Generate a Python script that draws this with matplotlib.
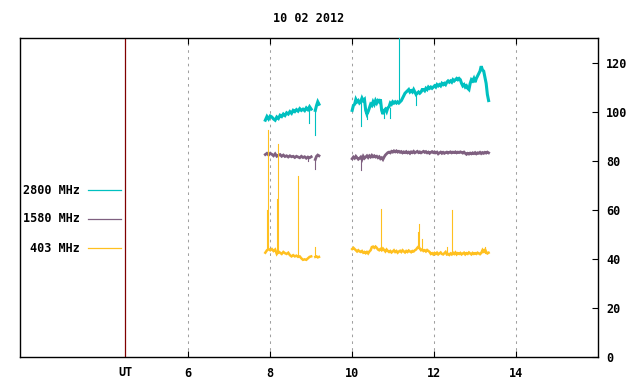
import matplotlib
matplotlib.use("Agg")
import matplotlib.pyplot as plt
import numpy as np

title = "10 02 2012"
labels = ["2800 MHz", "1580 MHz", "403 MHz"]
colors = ["#00c0c0", "#7f6080", "#ffc020"]
widths = [2.2, 2.0, 1.8]
grid_hours = [6, 8, 10, 12, 14]
yticks = [0, 20, 40, 60, 80, 100, 120]
ut_hour = 4.46

# sampling times of the three observing blocks (UT hours)
t_a = np.round(7.88 + 0.04 * np.arange(29), 2)
t_b = [9.10, 9.13, 9.16, 9.19]
t_c = np.round(10.0 + 0.03 * np.arange(112), 2)

# 2800 MHz
f2800_a = [96.5, 98.0, 97.0, 98.2, 97.8, 97.0, 96.5, 97.8, 97.2, 98.5,
           98.0, 99.0, 98.4, 99.5, 99.0, 100.0, 99.3, 100.5, 100.0, 100.8,
           100.2, 101.2, 100.5, 101.0, 100.4, 101.5, 100.8, 102.0, 101.0]
f2800_b = [100.5, 102.5, 104.0, 103.0]
f2800_c = [100.5, 102.5, 103.0, 105.0, 104.0, 104.5, 103.5, 104.0, 105.5, 104.5,
           105.0, 100.5, 99.0, 100.0, 101.5, 103.0, 102.5, 104.0, 103.0, 104.5,
           103.5, 104.5, 104.0, 105.0, 100.5, 99.0, 100.5, 101.0, 100.0, 101.5,
           102.0, 103.5, 103.0, 104.0, 103.5, 104.0, 103.5, 104.0, 103.5, 104.0,
           104.5, 105.5, 106.5, 107.5, 108.0, 108.5, 109.0, 108.0, 108.5, 108.0,
           109.0, 108.0, 107.0, 107.5, 108.0, 107.5, 108.0, 109.0, 109.0, 108.5,
           109.5, 109.0, 110.0, 109.5, 110.0, 109.5, 110.0, 110.5, 110.0, 111.0,
           110.5, 111.0, 110.5, 111.5, 111.0, 111.5, 111.0, 112.0, 112.5, 112.0,
           112.5, 112.0, 113.0, 112.5, 113.0, 113.5, 113.0, 113.5, 113.0, 111.5,
           110.5, 111.0, 110.0, 110.5, 109.5, 109.0, 111.5, 113.0, 112.5, 113.5,
           112.0, 113.5, 114.5, 115.5, 116.5, 118.5, 117.0, 116.5, 114.0, 111.5,
           107.0, 104.5]
# spikes: (hour, from, to)
spk2800 = [(8.95, 101.0, 95.2), (9.10, 101.0, 90.4), (10.22, 104.0, 94.0),
           (10.37, 100.0, 97.0), (10.78, 99.5, 97.5), (10.92, 101.5, 97.5),
           (11.15, 104.0, 132.0), (11.55, 108.0, 102.7)]

# 1580 MHz
f1580_a = [82.5, 83.0, 82.3, 83.0, 82.6, 82.0, 82.8, 81.8, 82.2, 82.5,
           81.8, 82.3, 81.7, 82.0, 81.5, 82.0, 81.6, 81.8, 81.3, 81.8,
           81.5, 81.2, 81.8, 81.3, 81.6, 81.0, 81.5, 81.2, 81.6]
f1580_b = [80.5, 81.8, 82.3, 82.0]
f1580_c = [80.8, 81.5, 81.0, 81.8, 81.2, 80.6, 81.0, 81.5, 80.5, 81.8,
           81.0, 81.5, 82.0, 81.3, 82.0, 81.5, 82.2, 81.6, 82.0, 81.5,
           81.8, 81.2, 81.6, 80.8, 81.2, 80.5, 81.5, 82.3, 82.8, 83.3,
           83.5, 83.2, 83.8, 83.5, 84.0, 83.6, 84.0, 83.5, 83.8, 83.4,
           83.7, 83.2, 83.6, 83.3, 83.7, 83.2, 83.5, 83.0, 83.6, 83.3,
           83.8, 83.2, 83.5, 83.8, 83.3, 83.6, 83.2, 83.5, 83.8, 83.4,
           83.7, 83.2, 83.5, 83.0, 83.4, 83.7, 83.3, 83.6, 83.2, 83.5,
           82.8, 83.2, 83.5, 83.0, 83.4, 83.0, 83.3, 83.5, 83.1, 83.4,
           83.6, 83.2, 83.5, 83.3, 83.6, 83.2, 83.5, 83.3, 83.6, 83.4,
           83.1, 83.5, 83.0, 82.6, 83.0, 82.7, 83.1, 82.8, 83.2, 82.9,
           83.3, 82.8, 83.2, 83.0, 83.4, 82.9, 83.3, 83.0, 83.4, 83.1,
           83.5, 83.2]
spk1580 = [(8.93, 81.5, 79.8), (9.10, 81.0, 76.7), (10.22, 81.0, 76.4)]

# 403 MHz
f403_a = [42.5, 43.5, 44.0, 43.5, 44.0, 43.2, 43.8, 42.0, 43.0, 42.5,
          42.0, 42.8, 42.3, 42.0, 42.5, 41.5, 41.0, 41.5, 41.0, 41.3,
          40.8, 41.0, 40.2, 39.6, 39.8, 39.6, 40.2, 40.8, 41.0]
f403_b = [40.8, 41.0, 40.6, 40.8]
f403_c = [44.0, 44.5, 44.0, 43.5, 43.0, 43.5, 43.0, 42.8, 43.2, 42.5,
          42.8, 42.3, 42.8, 42.2, 43.0, 43.5, 44.8, 45.0, 44.5, 45.0,
          44.5, 43.8, 43.5, 44.0, 43.5, 44.2, 43.6, 43.0, 43.8, 43.2,
          42.8, 43.2, 42.6, 43.0, 43.5, 42.8, 43.2, 42.5, 43.0, 43.3,
          42.8, 43.5, 43.0, 42.6, 43.2, 42.8, 43.4, 43.0, 42.7, 43.2,
          43.0, 43.5, 43.8, 44.5, 45.0, 44.2, 43.5, 43.8, 43.2, 43.5,
          43.0, 43.6, 43.2, 42.8, 42.0, 42.3, 41.8, 42.4, 42.0, 42.5,
          41.8, 42.2, 42.6, 42.0, 41.8, 42.3, 42.8, 41.8, 42.0, 41.6,
          42.2, 41.8, 42.5, 42.0, 42.6, 41.8, 42.3, 42.0, 42.4, 41.8,
          42.2, 42.5, 41.8, 42.3, 42.0, 42.6, 42.2, 41.8, 42.4, 42.0,
          42.3, 42.0, 42.5, 42.2, 41.9, 42.4, 43.5, 42.5, 44.0, 42.8,
          42.2, 42.5]
spk403 = [(7.93, 43.5, 60.0), (7.95, 44.0, 92.5), (8.17, 42.5, 64.5),
          (8.19, 42.5, 87.0), (8.68, 41.0, 73.7), (9.10, 41.0, 45.0),
          (10.71, 43.5, 60.4), (11.61, 44.5, 51.0), (11.63, 44.5, 54.3),
          (11.71, 43.5, 48.0), (12.44, 42.0, 60.0), (12.32, 42.0, 45.0),
          (13.25, 42.5, 44.8)]

series = [(f2800_a, f2800_b, f2800_c, spk2800),
          (f1580_a, f1580_b, f1580_c, spk1580),
          (f403_a, f403_b, f403_c, spk403)]

font = dict(family="DejaVu Sans Mono", weight="bold", size=8.5)

fig = plt.figure(figsize=(6.4, 3.84), dpi=100)
ax = fig.add_axes([20.3 / 640, 27 / 384, 577.7 / 640, 319 / 384])
ax.set_xlim(1.9, 16.0)
ax.set_ylim(0, 130)

for h in grid_hours:
    ax.axvline(h, color="#a0a0a0", lw=0.75, ls=(0, (2.5, 4)), zorder=1)
ax.axvline(ut_hour, color="#800000", lw=0.9, zorder=1)

for (fa, fb, fc, spk), col, lw in zip(series, colors, widths):
    for t, f in ((t_a, fa), (t_b, fb), (t_c, fc)):
        ax.plot(t, f, color=col, lw=lw, solid_joinstyle="miter", zorder=3)
    for h, lo, hi in spk:
        ax.plot([h, h], [lo, hi], color=col, lw=0.8, zorder=3)

# legend drawn by hand on the left, like gnuplot's key
for i, (lab, col) in enumerate(zip(labels, colors)):
    yf = (384 - 190 - 29 * i) / 384
    fig.text(80 / 640, yf, lab, ha="right", va="center", **font)
    fig.add_artist(plt.Line2D([88 / 640, 121 / 640], [yf, yf], color=col, lw=0.9))

ax.set_xticks(grid_hours)
ax.set_xticklabels([str(h) for h in grid_hours], **font)
ax.tick_params(axis="x", direction="in", length=4, width=0.8, top=True, bottom=True, pad=7)
ax.yaxis.tick_right()
ax.set_yticks(yticks)
ax.set_yticklabels([str(v) for v in yticks], **font)
ax.tick_params(axis="y", direction="in", length=4, width=0.8, right=True, left=False, pad=6)
for s in ax.spines.values():
    s.set_linewidth(1.0)

ax.text(ut_hour, -3.5, "UT", ha="center", va="top", **font)
fig.text(309 / 640, 1 - 18 / 384, title, ha="center", va="center", **font)

fig.savefig("out.png", dpi=100)
